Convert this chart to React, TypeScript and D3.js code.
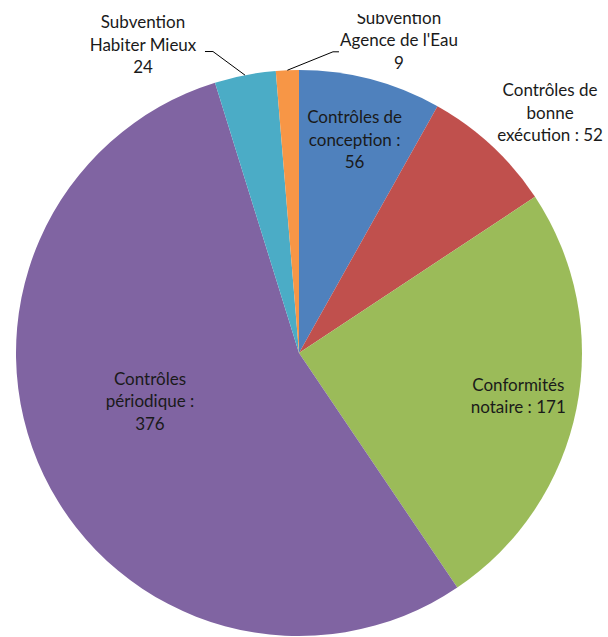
import React from "react";
import * as d3 from "d3";

// ---- Data ----
const categories = [
  "Contrôles de conception",
  "Contrôles de bonne exécution",
  "Conformités notaire",
  "Contrôles périodique",
  "Subvention Habiter Mieux",
  "Subvention Agence de l'Eau",
];
const values = [56, 52, 171, 376, 24, 9];
// label text lines; {v} is replaced by the value
const labelTemplates = [
  ["Contrôles de", "conception :", "{v}"],
  ["Contrôles de", "bonne", "exécution : {v}"],
  ["Conformités", "notaire : {v}"],
  ["Contrôles", "périodique :", "{v}"],
  ["Subvention", "Habiter Mieux", "{v}"],
  ["Subvention", "Agence de l'Eau", "{v}"],
];
const colors = ["#4F81BD", "#C0504D", "#9BBB59", "#8064A2", "#4BACC6", "#F79646"];

// ---- Layout (label placement relative to slice mid-angle) ----
const labelAngleShift = [0, 3.4, 0, 7.6, -15.9, 20.1]; // degrees
const labelRadiusFactor = [0.777, 1.227, 0.79, 0.554, 1.219, 1.159];
const hasLeader = [false, false, false, false, true, true];
const leaderElbow: ([number, number] | null)[] = [null, null, null, null, [70, 6.2], [-66, 11.2]];
const leaderEnd: ([number, number] | null)[] = [null, null, null, null, [62, 6.2], [-60, 11.2]];

const W = 608;
const H = 637;
const CX = 299;
const CY = 353;
const R = 283;
const LINE_H = 22.5;
const FONT = "Lato, 'Open Sans', sans-serif";
const FONT_SIZE = 17;

export default function App() {
  const pie = d3
    .pie<number>()
    .sort(null)
    .value((d) => d)
    .startAngle(0)
    .endAngle(2 * Math.PI);
  const arcs = pie(values);
  const arc = d3.arc<d3.PieArcDatum<number>>().innerRadius(0).outerRadius(R);
  const line = d3.line();

  return (
    <svg
      width={W}
      height={H}
      style={{ position: "absolute", left: 0, top: 0, background: "#fff" }}
    >
      <defs>
        <clipPath id="clipTop" clipPathUnits="userSpaceOnUse">
          <rect x={0} y={14} width={W} height={H - 14} />
        </clipPath>
      </defs>
      <rect x={0} y={0} width={W} height={H} fill="#fff" />
      <g clipPath="url(#clipTop)">
        <g transform={`translate(${CX},${CY})`}>
          {arcs.map((a, i) => (
            <path key={categories[i]} d={arc(a) || ""} fill={colors[i]} />
          ))}
          {arcs.map((a, i) => {
            const mid = (a.startAngle + a.endAngle) / 2;
            const ang = mid + (labelAngleShift[i] * Math.PI) / 180;
            const [lx, ly] = d3.pointRadial(ang, R * labelRadiusFactor[i]);
            const lines = labelTemplates[i].map((t) => t.replace("{v}", String(values[i])));
            const n = lines.length;
            let leader: string | null = null;
            if (hasLeader[i]) {
              const p0 = d3.pointRadial(mid, R);
              const e = leaderElbow[i]!;
              const f = leaderEnd[i]!;
              leader = line([
                p0 as [number, number],
                [lx + e[0], ly + e[1]],
                [lx + f[0], ly + f[1]],
              ]);
            }
            return (
              <g key={"lab" + i}>
                {leader && <path d={leader} fill="none" stroke="#000" strokeWidth={1} />}
                <text
                  textAnchor="middle"
                  fontFamily={FONT}
                  fontSize={FONT_SIZE}
                  fill="#1a1a1a"
                >
                  {lines.map((s, j) => (
                    <tspan key={j} x={lx} y={ly + (j - (n - 1) / 2) * LINE_H + 5.5}>
                      {s}
                    </tspan>
                  ))}
                </text>
              </g>
            );
          })}
        </g>
      </g>
    </svg>
  );
}
